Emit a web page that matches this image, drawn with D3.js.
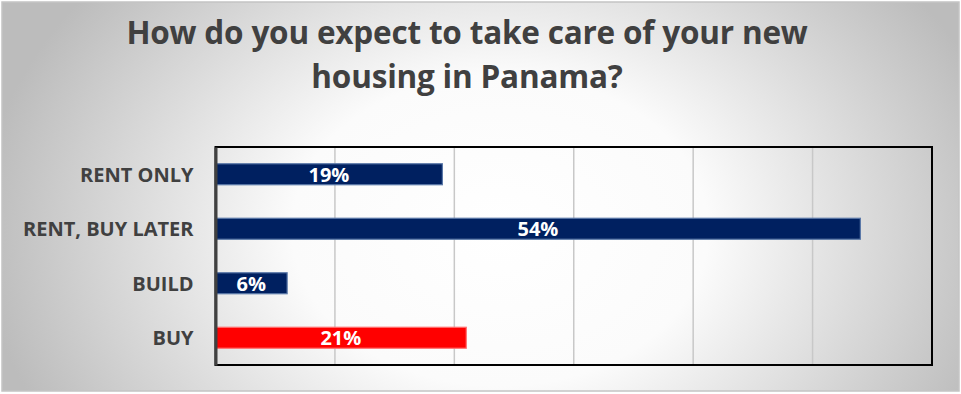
<!DOCTYPE html>
<html>
<head>
<meta charset="utf-8">
<script src="https://cdn.jsdelivr.net/npm/d3@7"></script>
<style>
  html, body { margin: 0; padding: 0; background: #fff; }
  svg { display: block; }
</style>
</head>
<body>
<script>
// Survey answers, top to bottom
const categories = ["RENT ONLY", "RENT, BUY LATER", "BUILD", "BUY"];
const values = [19, 54, 6, 21];
const barColors = ["#002060", "#002060", "#002060", "#ff0000"];
const barStrokes = ["#5a78a8", "#5a78a8", "#5a78a8", "#ff7070"];
const xTicks = [0, 10, 20, 30, 40, 50, 60];
const titleLines = ["How do you expect to take care of your new", "housing in Panama?"];

const W = 961, H = 394;
const plot = { left: 215.5, right: 932, top: 147, bottom: 365 };
const FONT = "'Open Sans', Lato, sans-serif";

const svg = d3.select("body").append("svg")
  .attr("width", W).attr("height", H);

// Soft radial backdrop: white in the middle, grey toward the edges
const defs = svg.append("defs");
const grad = defs.append("radialGradient")
  .attr("id", "bg").attr("gradientUnits", "userSpaceOnUse")
  .attr("cx", 500).attr("cy", 230).attr("r", 520)
  .attr("gradientTransform", "translate(500,230) scale(1,0.75) translate(-500,-230)");
grad.append("stop").attr("offset", "0").attr("stop-color", "#ffffff");
grad.append("stop").attr("offset", "0.4").attr("stop-color", "#fbfbfb");
grad.append("stop").attr("offset", "1").attr("stop-color", "#bcbcbc");

svg.append("rect").attr("x", 2).attr("y", 2).attr("width", W - 4).attr("height", H - 5)
  .attr("fill", "url(#bg)").attr("stroke", "#c4c4c4").attr("stroke-width", 1.5);

// Title
svg.append("g").selectAll("text").data(titleLines).join("text")
  .attr("x", 467).attr("y", (d, i) => 44 + i * 43.5)
  .attr("text-anchor", "middle")
  .attr("font-family", FONT)
  .attr("font-weight", 700).attr("font-size", 31.5)
  .attr("letter-spacing", -0.2)
  .attr("fill", "#404040")
  .text(d => d);

const x = d3.scaleLinear().domain([0, 60]).range([plot.left, plot.right]);
const y = d3.scaleBand().domain(categories).range([plot.top, plot.bottom])
  .paddingInner(0.615).paddingOuter(0.3075);

// Vertical gridlines
svg.append("g").selectAll("line").data(xTicks.slice(1, -1)).join("line")
  .attr("x1", d => x(d)).attr("x2", d => x(d))
  .attr("y1", plot.top).attr("y2", plot.bottom)
  .attr("stroke", "#c8c8c8").attr("stroke-width", 1.5);

// Bars
svg.append("g").selectAll("rect").data(values).join("rect")
  .attr("x", x(0))
  .attr("y", (d, i) => y(categories[i]))
  .attr("width", d => x(d) - x(0))
  .attr("height", y.bandwidth())
  .attr("fill", (d, i) => barColors[i])
  .attr("stroke", (d, i) => barStrokes[i]).attr("stroke-width", 1.2);

// Value labels centred in each bar
svg.append("g").selectAll("text").data(values).join("text")
  .attr("x", d => (x(0) + x(d)) / 2)
  .attr("y", (d, i) => y(categories[i]) + y.bandwidth() / 2)
  .attr("dy", "0.37em")
  .attr("text-anchor", "middle")
  .attr("font-family", FONT)
  .attr("font-weight", 700).attr("font-size", 20)
  .attr("fill", "#ffffff")
  .text(d => d + "%");

// Plot frame
svg.append("rect")
  .attr("x", plot.left).attr("y", plot.top)
  .attr("width", plot.right - plot.left).attr("height", plot.bottom - plot.top)
  .attr("fill", "none").attr("stroke", "#000").attr("stroke-width", 2);

// Category axis
const yAxis = svg.append("g")
  .attr("transform", `translate(${plot.left},0)`)
  .call(d3.axisLeft(y).tickSize(0).tickPadding(22));
yAxis.select(".domain").attr("stroke", "#404040").attr("stroke-width", 3);
yAxis.selectAll("text")
  .attr("font-family", FONT)
  .attr("font-weight", 700).attr("font-size", 20)
  .attr("dy", "0.37em")
  .attr("fill", "#404040");
</script>
</body>
</html>
